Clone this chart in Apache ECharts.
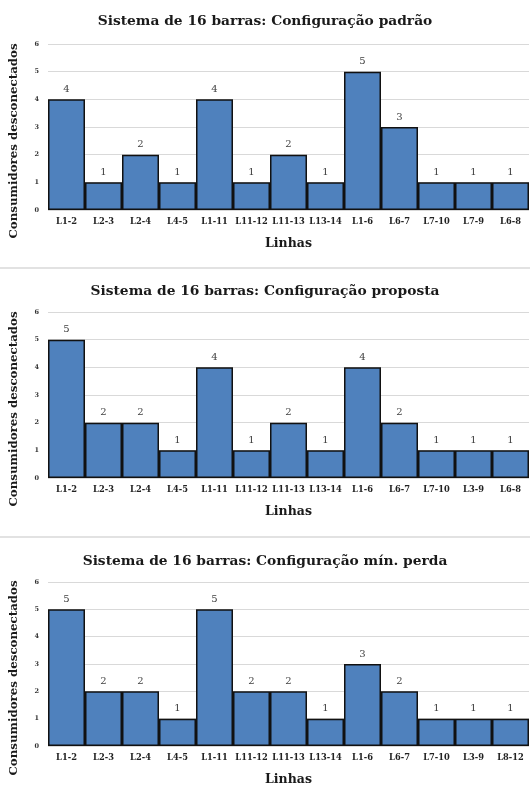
<!DOCTYPE html>
<html>
<head>
<meta charset="utf-8">
<script src="https://cdn.jsdelivr.net/npm/echarts@6/dist/echarts.min.js"></script>
<style>
  html, body { margin: 0; padding: 0; background: #fff; }
  #chart { width: 530px; height: 787px; }
</style>
</head>
<body>
<div id="chart"></div>
<script>
// Disconnected consumers per line, 16-bus system, three configurations
const titles = [
  'Sistema de 16 barras: Configuração padrão',
  'Sistema de 16 barras: Configuração proposta',
  'Sistema de 16 barras: Configuração mín. perda'
];
const linesPadrao   = ['L1-2','L2-3','L2-4','L4-5','L1-11','L11-12','L11-13','L13-14','L1-6','L6-7','L7-10','L7-9','L6-8'];
const linesProposta = ['L1-2','L2-3','L2-4','L4-5','L1-11','L11-12','L11-13','L13-14','L1-6','L6-7','L7-10','L3-9','L6-8'];
const linesMinPerda = ['L1-2','L2-3','L2-4','L4-5','L1-11','L11-12','L11-13','L13-14','L1-6','L6-7','L7-10','L3-9','L8-12'];
const valuesPadrao   = [4, 1, 2, 1, 4, 1, 2, 1, 5, 3, 1, 1, 1];
const valuesProposta = [5, 2, 2, 1, 4, 1, 2, 1, 4, 2, 1, 1, 1];
const valuesMinPerda = [5, 2, 2, 1, 5, 2, 2, 1, 3, 2, 1, 1, 1];
const yTicks = [0, 1, 2, 3, 4, 5, 6];

const panels = [
  { cats: linesPadrao,   vals: valuesPadrao,   top: 44,  titleTop: 9 },
  { cats: linesProposta, vals: valuesProposta, top: 312, titleTop: 279 },
  { cats: linesMinPerda, vals: valuesMinPerda, top: 582, titleTop: 549 }
];

const serif = '"DejaVu Serif", "Liberation Serif", serif';
const chart = echarts.init(document.getElementById('chart'), null, { renderer: 'canvas' });

const option = {
  animation: false,
  backgroundColor: '#ffffff',
  title: panels.map((p, i) => ({
    text: titles[i],
    left: 'center',
    top: p.titleTop,
    textStyle: { fontFamily: serif, fontWeight: 'bold', fontSize: 13.8, color: '#1a1a1a' }
  })),
  grid: panels.map(p => ({ left: 48, right: 1, top: p.top, height: 166 })),
  xAxis: panels.map((p, i) => ({
    type: 'category',
    gridIndex: i,
    data: p.cats,
    name: 'Linhas',
    nameLocation: 'middle',
    nameGap: 27,
    nameTextStyle: { fontFamily: serif, fontWeight: 'bold', fontSize: 12.5, color: '#1a1a1a' },
    axisLine: { show: false },
    axisTick: { show: false },
    axisLabel: { interval: 0, fontFamily: serif, fontWeight: 'bold', fontSize: 8.3, color: '#222', margin: 8 }
  })),
  yAxis: panels.map((p, i) => ({
    type: 'value',
    gridIndex: i,
    min: yTicks[0],
    max: yTicks[yTicks.length - 1],
    interval: 1,
    name: 'Consumidores desconectados',
    nameLocation: 'middle',
    nameGap: 28,
    nameTextStyle: { fontFamily: serif, fontWeight: 'bold', fontSize: 11.8, color: '#1a1a1a', padding: [0, 28, 0, 0] },
    axisLine: { show: false },
    axisTick: { show: false },
    axisLabel: { fontFamily: serif, fontWeight: 'bold', fontSize: 6.5, color: '#333', margin: 9 },
    splitLine: { lineStyle: { color: '#d9d9d9', width: 1.2 } }
  })),
  series: panels.map((p, i) => ({
    type: 'bar',
    xAxisIndex: i,
    yAxisIndex: i,
    data: p.vals,
    barCategoryGap: '0%',
    itemStyle: { color: '#4f81bd', borderColor: '#111', borderWidth: 1.5 },
    label: {
      show: true,
      position: 'top',
      distance: 5,
      fontFamily: serif,
      fontSize: 10,
      color: '#404040'
    }
  })),
  graphic: [
    { type: 'line', shape: { x1: 0, y1: 268, x2: 530, y2: 268 }, style: { stroke: '#d9d9d9', lineWidth: 1.5 } },
    { type: 'line', shape: { x1: 0, y1: 537, x2: 530, y2: 537 }, style: { stroke: '#d9d9d9', lineWidth: 1.5 } }
  ]
};

chart.setOption(option);
</script>
</body>
</html>
